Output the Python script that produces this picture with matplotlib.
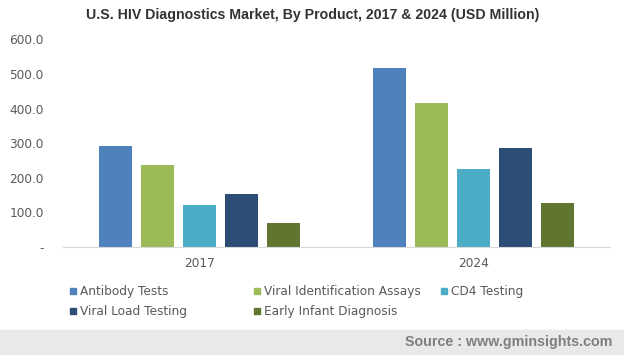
import numpy as np
import matplotlib
matplotlib.use("Agg")
import matplotlib.pyplot as plt
from matplotlib.patches import Rectangle

years = ["2017", "2024"]
products = ["Antibody Tests", "Viral Identification Assays", "CD4 Testing",
            "Viral Load Testing", "Early Infant Diagnosis"]
antibody = [292, 517]
viral_id = [237, 416]
cd4 = [121, 225]
viral_load = [153, 286]
early_infant = [69, 127]
colors = ["#4F81BD", "#9BBB59", "#4BACC6", "#2C4D75", "#5F7530"]


def main():
    W, H = 624, 355
    fig = plt.figure(figsize=(W / 100, H / 100), dpi=100)
    ax = fig.add_axes([63 / W, 1 - 247 / H, (610 - 63) / W, (247 - 39.3) / H])

    series = [antibody, viral_id, cd4, viral_load, early_infant]
    x = np.arange(len(years))
    width = 0.1207
    pitch = 0.1536
    for i, (vals, c) in enumerate(zip(series, colors)):
        ax.bar(x + (i - 2) * pitch, vals, width, color=c, label=products[i])

    ax.set_xlim(-0.5, 1.5)
    ax.set_ylim(0, 600)
    ax.set_yticks(np.arange(0, 601, 100))
    ax.set_yticklabels(["-"] + ["%.1f" % v for v in range(100, 601, 100)])
    ax.set_xticks(x)
    ax.set_xticklabels(years)
    ax.tick_params(axis="both", length=0, colors="#595959", labelsize=8.7)
    ax.tick_params(axis="y", pad=14)
    ax.tick_params(axis="x", pad=7)
    for s in ["top", "right", "left"]:
        ax.spines[s].set_visible(False)
    ax.spines["bottom"].set_color("#d9d9d9")

    fig.text(313 / W, 1 - 15 / H,
             "U.S. HIV Diagnostics Market, By Product, 2017 & 2024 (USD Million)",
             ha="center", va="center", fontsize=10.2, fontweight="bold",
             family="Liberation Sans", color="#333333")

    # legend, laid out by hand like the original
    spots = [(72, 291), (256, 291), (443, 291), (72, 311), (256, 311)]
    for (px, py), name, c in zip(spots, products, colors):
        fig.patches.append(Rectangle((px / W - 2.5 / W, 1 - (py + 3) / H), 6 / W, 6 / H,
                                     transform=fig.transFigure, color=c))
        fig.text((px + 8) / W, 1 - py / H, name, ha="left", va="center",
                 fontsize=8.7, color="#595959")

    fig.patches.append(Rectangle((0, 0), 1, 25 / H, transform=fig.transFigure,
                                 color="#e9e9e9", zorder=0))
    fig.text(612 / W, 1 - 342 / H, "Source : www.gminsights.com", ha="right",
             va="center", fontsize=10.3, fontweight="bold", family="Liberation Sans",
             color="#7f7f7f")

    fig.savefig("out.png", dpi=100)


if __name__ == "__main__":
    main()
